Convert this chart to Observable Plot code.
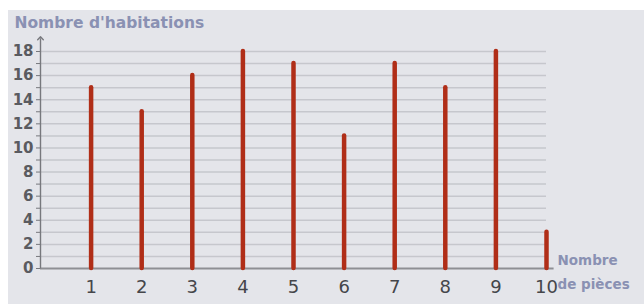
<!DOCTYPE html>
<html>
<head>
<meta charset="utf-8">
<script src="https://cdn.jsdelivr.net/npm/d3@7"></script>
<script src="https://cdn.jsdelivr.net/npm/@observablehq/plot@0.6"></script>
<style>
  html, body { margin: 0; padding: 0; background: #ffffff; width: 644px; height: 304px; overflow: hidden; }
  #bg { position: absolute; left: 8px; top: 10px; right: 0; bottom: 0; background: #e4e5ea; }
  #chart { position: absolute; left: 0; top: 0; }
  #chart svg { background: transparent; font-family: "DejaVu Sans", Verdana, sans-serif; }
</style>
</head>
<body>
<div id="bg"></div>
<div id="chart"></div>
<script>
const pieces = [1, 2, 3, 4, 5, 6, 7, 8, 9, 10];
const habitations = [15, 13, 16, 18, 17, 11, 17, 15, 18, 3];
const yGridValues = [1, 2, 3, 4, 5, 6, 7, 8, 9, 10, 11, 12, 13, 14, 15, 16, 17, 18];
const yTickValues = [0, 1, 2, 3, 4, 5, 6, 7, 8, 9, 10, 11, 12, 13, 14, 15, 16, 17, 18];
const yTickLabels = [0, 2, 4, 6, 8, 10, 12, 14, 16, 18];
const xTickLabels = [1, 2, 3, 4, 5, 6, 7, 8, 9, 10];
const yTitle = "Nombre d'habitations";
const xTitle = "Nombre\nde pièces";

const data = pieces.map((p, i) => ({pieces: p, habitations: habitations[i]}));

const chart = Plot.plot({
  width: 644,
  height: 304,
  marginLeft: 40,
  marginRight: 98,
  marginTop: 51,
  marginBottom: 36,
  style: {background: "transparent", fontFamily: "DejaVu Sans, Verdana, sans-serif"},
  x: {domain: [0, 10]},
  y: {domain: [0, 18]},
  marks: [
    Plot.gridY(yGridValues, {stroke: "#c6c7cd", strokeOpacity: 1, strokeWidth: 1.5}),
    Plot.ruleY([0], {x1: 0, x2: 10.15, stroke: "#8e8f94", strokeWidth: 2}),
    Plot.link([0], {x1: () => 0, x2: () => 0, y1: () => 0, y2: () => 19.1, stroke: "#77787d", strokeWidth: 1.4, markerEnd: "arrow"}),
    Plot.axisY(yTickValues, {
      tickSize: 4,
      tickPadding: 3,
      tickFormat: d => yTickLabels.includes(d) ? String(d) : "",
      fontSize: 15,
      fontWeight: "bold",
      color: "#5a5b60",
      stroke: "#77787d",
      label: null
    }),
    Plot.axisX(xTickLabels, {
      tickSize: 0,
      tickPadding: 12,
      fontSize: 18,
      color: "#45464a",
      label: null
    }),
    Plot.ruleX(data, {x: "pieces", y1: 0, y2: "habitations", stroke: "#b02e18", strokeWidth: 4.5, strokeLinecap: "round"}),
    Plot.text([yTitle], {
      frameAnchor: "top-left", textAnchor: "start", lineAnchor: "bottom",
      dx: -26, dy: -24, fontSize: 15.5, fontWeight: "bold", fill: "#8a91b3", text: d => d
    }),
    Plot.text([xTitle], {
      frameAnchor: "bottom-right", textAnchor: "start", lineAnchor: "middle",
      dx: 11, dy: 1, fontSize: 13.5, fontWeight: "bold", fill: "#8a91b3", lineHeight: 1.8, text: d => d
    })
  ]
});
document.getElementById("chart").appendChild(chart);
</script>
</body>
</html>
